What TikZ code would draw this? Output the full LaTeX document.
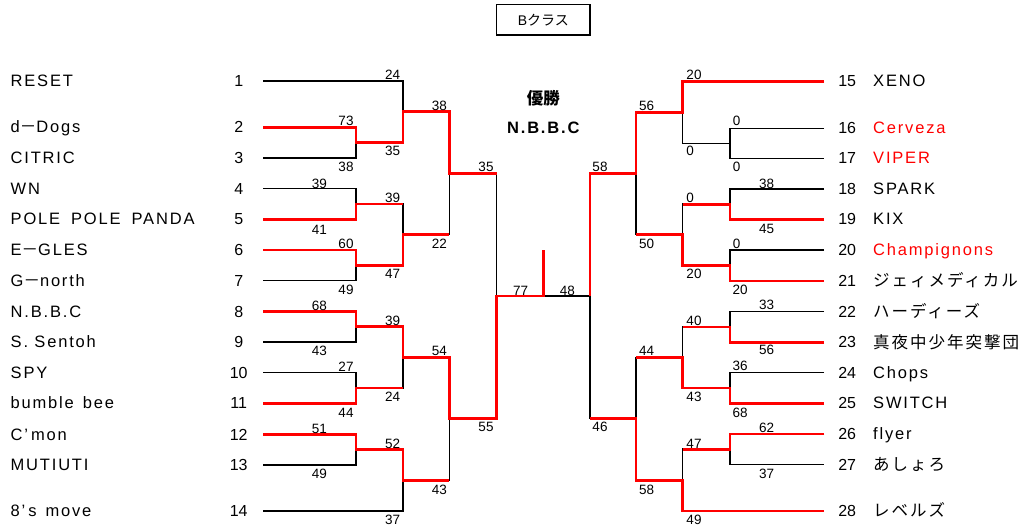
\documentclass[tikz,border=0pt]{standalone}
\usepackage{fontspec}
\setmainfont{Liberation Sans}
\newfontfamily\nmfont[LetterSpace=11]{Liberation Sans}
\newfontfamily\cjknm[LetterSpace=12]{Noto Sans CJK JP}
\newfontfamily\cjk{Noto Sans CJK JP}
\definecolor{bred}{RGB}{255,0,0}
\tikzset{
  bl/.style={line width=1.4pt, black},
  rl/.style={line width=2.9pt, bred},
  nm/.style={anchor=base west, inner sep=0pt, font=\nmfont\fontsize{16.5}{18}\selectfont},
  sd/.style={anchor=base, inner sep=0pt, font=\fontsize{16}{18}\selectfont},
  sc/.style={anchor=base, inner sep=0pt, font=\fontsize{13.5}{15}\selectfont},
}
\begin{document}
\begin{tikzpicture}[x=1pt,y=-1pt]
\useasboundingbox (0,0) rectangle (1023,526);
\fill[white] (0,0) rectangle (1023,526);
% seed line ends
\coordinate (s1) at (263,81);
\coordinate (s2) at (263,127.3);
\coordinate (s3) at (263,158);
\coordinate (s4) at (263,188.7);
\coordinate (s5) at (263,219.3);
\coordinate (s6) at (263,250);
\coordinate (s7) at (263,280.7);
\coordinate (s8) at (263,311.7);
\coordinate (s9) at (263,342);
\coordinate (s10) at (263,372.7);
\coordinate (s11) at (263,403.3);
\coordinate (s12) at (263,434.3);
\coordinate (s13) at (263,465);
\coordinate (s14) at (263,511);
\coordinate (s15) at (824,81.3);
\coordinate (s16) at (824,128.3);
\coordinate (s17) at (824,158.3);
\coordinate (s18) at (824,189);
\coordinate (s19) at (824,219.3);
\coordinate (s20) at (824,250);
\coordinate (s21) at (824,281);
\coordinate (s22) at (824,311.7);
\coordinate (s23) at (824,342.3);
\coordinate (s24) at (824,372.7);
\coordinate (s25) at (824,403.3);
\coordinate (s26) at (824,434);
\coordinate (s27) at (824,464.3);
\coordinate (s28) at (824,511);
% left matches
\coordinate (mA) at (356,142.65);
\coordinate (mC) at (356,204);
\coordinate (mD) at (356,265.35);
\coordinate (mG) at (356,326.85);
\coordinate (mH) at (356,388);
\coordinate (mJ) at (356,449.65);
\coordinate (mB) at (403,111.8);
\coordinate (mE) at (403,234.7);
\coordinate (mI) at (403,357.4);
\coordinate (mK) at (403,480.3);
\coordinate (mF) at (449.3,173.25);
\coordinate (mL) at (449.3,418.85);
\coordinate (mM) at (496.7,296.05);
\coordinate (mW) at (543.3,296.05);
\coordinate (mTop) at (543.3,250);
\coordinate (mN) at (590,296.05);
% right matches
\coordinate (mT1) at (730,143.3);
\coordinate (mT2) at (730,204.15);
\coordinate (mT3) at (730,265.5);
\coordinate (mT4) at (730,327);
\coordinate (mT5) at (730,388);
\coordinate (mT6) at (730,449.15);
\coordinate (mS1) at (682.7,112.3);
\coordinate (mS2) at (682.7,234.8);
\coordinate (mS3) at (682.7,357.5);
\coordinate (mS4) at (682.7,480.1);
\coordinate (mP) at (636,173.55);
\coordinate (mQ) at (636,418.8);
% black skeleton
\draw[bl] (s2) -| (mA) |- (s3);
\draw[bl] (s4) -| (mC) |- (s5);
\draw[bl] (s6) -| (mD) |- (s7);
\draw[bl] (s8) -| (mG) |- (s9);
\draw[bl] (s10) -| (mH) |- (s11);
\draw[bl] (s12) -| (mJ) |- (s13);
\draw[bl] (s1) -| (mB) |- (mA);
\draw[bl] (mC) -| (mE) |- (mD);
\draw[bl] (mG) -| (mI) |- (mH);
\draw[bl] (mJ) -| (mK) |- (s14);
\draw[bl] (mB) -| (mF) |- (mE);
\draw[bl] (mI) -| (mL) |- (mK);
\draw[bl] (mF) -| (mM) |- (mL);
\draw[bl] (mM) -- (mN);
\draw[bl] (s16) -| (mT1) |- (s17);
\draw[bl] (s18) -| (mT2) |- (s19);
\draw[bl] (s20) -| (mT3) |- (s21);
\draw[bl] (s22) -| (mT4) |- (s23);
\draw[bl] (s24) -| (mT5) |- (s25);
\draw[bl] (s26) -| (mT6) |- (s27);
\draw[bl] (s15) -| (mS1) |- (mT1);
\draw[bl] (mT2) -| (mS2) |- (mT3);
\draw[bl] (mT4) -| (mS3) |- (mT5);
\draw[bl] (mT6) -| (mS4) |- (s28);
\draw[bl] (mS1) -| (mP) |- (mS2);
\draw[bl] (mS3) -| (mQ) |- (mS4);
\draw[bl] (mP) -| (mN) |- (mQ);
% red winner paths
\draw[rl] (s2) -| (mA) -| (mB) -| (mF) -- (mF -| mM);
\draw[rl] (s5) -| (mC) -- (mC -| mE);
\draw[rl] (s6) -| (mD) -| (mE) -- (mE -| mF);
\draw[rl] (s8) -| (mG) -| (mI) -| (mL) -| (mM) -- (mW) -- (mTop);
\draw[rl] (s11) -| (mH) -- (mH -| mI);
\draw[rl] (s12) -| (mJ) -| (mK) -- (mK -| mL);
\draw[rl] (s15) -| (mS1) -| (mP) -| (mN);
\draw[rl] (s19) -| (mT2) -- (mT2 -| mS2);
\draw[rl] (s21) -| (mT3) -| (mS2) -- (mS2 -| mP);
\draw[rl] (s23) -| (mT4) -- (mT4 -| mS3);
\draw[rl] (s25) -| (mT5) -| (mS3) -- (mS3 -| mQ);
\draw[rl] (s26) -| (mT6) -- (mT6 -| mS4);
\draw[rl] (s28) -| (mS4) -| (mQ) -- (mQ -| mN);
% title box
\node[draw, line width=1.4pt, minimum width=93.3pt, minimum height=30.3pt, inner sep=0pt,
      font=\fontsize{14}{16}\selectfont] (title) at (543.3,19.85) {B{\cjk クラス}};
\node[inner sep=0pt, font=\cjk\bfseries\fontsize{16.5}{18}\selectfont] (yusho) at (543.3,98.3) {優勝};
\node[anchor=base, inner sep=0pt, font=\nmfont\bfseries\fontsize{16.5}{18}\selectfont] (champ) at (543.3,134) {N.B.B.C};
% left names
\node[nm] (n1) at (10.5,86.7) {RESET};
\node[nm] (n2) at (10.5,133) {d{\cjk －}Dogs};
\node[nm] (n3) at (10.5,163.7) {CITRIC};
\node[nm] (n4) at (10.5,194.4) {WN};
\node[nm] (n5) at (10.5,225) {POLE\hspace{11pt}POLE\hspace{11pt}PANDA};
\node[nm] (n6) at (10.5,255.7) {E{\cjk －}GLES};
\node[nm] (n7) at (10.5,286.4) {G{\cjk －}north};
\node[nm] (n8) at (10.5,317.4) {N.B.B.C};
\node[nm] (n9) at (10.5,347.7) {S. Sentoh};
\node[nm] (n10) at (10.5,378.4) {SPY};
\node[nm] (n11) at (10.5,409) {bumble\hspace{9pt}bee};
\node[nm] (n12) at (10.5,440) {C’\hspace{3pt}mon};
\node[nm] (n13) at (10.5,470.7) {MUTIUTI};
\node[nm] (n14) at (10.5,516.7) {8’\hspace{3pt}s\hspace{9pt}move};
% left seed numbers
\node[sd] (d1) at (238.7,86.7) {1};
\node[sd] (d2) at (238.7,133) {2};
\node[sd] (d3) at (238.7,163.7) {3};
\node[sd] (d4) at (238.7,194.4) {4};
\node[sd] (d5) at (238.7,225) {5};
\node[sd] (d6) at (238.7,255.7) {6};
\node[sd] (d7) at (238.7,286.4) {7};
\node[sd] (d8) at (238.7,317.4) {8};
\node[sd] (d9) at (238.7,347.7) {9};
\node[sd] (d10) at (238.7,378.4) {10};
\node[sd] (d11) at (238.7,409) {11};
\node[sd] (d12) at (238.7,440) {12};
\node[sd] (d13) at (238.7,470.7) {13};
\node[sd] (d14) at (238.7,516.7) {14};
% right seed numbers
\node[sd] (d15) at (847.2,87) {15};
\node[sd] (d16) at (847.2,134) {16};
\node[sd] (d17) at (847.2,164) {17};
\node[sd] (d18) at (847.2,194.7) {18};
\node[sd] (d19) at (847.2,225) {19};
\node[sd] (d20) at (847.2,255.7) {20};
\node[sd] (d21) at (847.2,286.7) {21};
\node[sd] (d22) at (847.2,317.4) {22};
\node[sd] (d23) at (847.2,348) {23};
\node[sd] (d24) at (847.2,378.4) {24};
\node[sd] (d25) at (847.2,409) {25};
\node[sd] (d26) at (847.2,439.7) {26};
\node[sd] (d27) at (847.2,470) {27};
\node[sd] (d28) at (847.2,516.7) {28};
% right names
\node[nm] (n15) at (873,87) {XENO};
\node[nm, text=bred] (n16) at (873,134) {Cerveza};
\node[nm, text=bred] (n17) at (873,164) {VIPER};
\node[nm] (n18) at (873,194.7) {SPARK};
\node[nm] (n19) at (873,225) {KIX};
\node[nm, text=bred] (n20) at (873,255.7) {Champignons};
\node[nm] (n21) at (873,286.9) {\cjknm ジェィメディカル};
\node[nm] (n22) at (873,317.6) {\cjknm ハーディーズ};
\node[nm] (n23) at (873,348.2) {\cjknm 真夜中少年突撃団};
\node[nm] (n24) at (873,378.4) {Chops};
\node[nm] (n25) at (873,409) {SWITCH};
\node[nm] (n26) at (873,439.7) {flyer};
\node[nm] (n27) at (873,470.2) {\cjknm あしょろ};
\node[nm] (n28) at (873,516.9) {\cjknm レベルズ};
% scores left
\node[sc] (p1) at (392.7,79.8) {24};
\node[sc] (p2) at (346,125.8) {73};
\node[sc] (p3) at (392.7,155.5) {35};
\node[sc] (p4) at (346,171.5) {38};
\node[sc] (p5) at (439.3,110.8) {38};
\node[sc] (p6) at (319.3,188.1) {39};
\node[sc] (p7) at (392.7,202.1) {39};
\node[sc] (p8) at (319.3,234.1) {41};
\node[sc] (p9) at (486,171.5) {35};
\node[sc] (p10) at (439.3,248.1) {22};
\node[sc] (p11) at (346,248.1) {60};
\node[sc] (p12) at (392.7,278.1) {47};
\node[sc] (p13) at (346,294.8) {49};
\node[sc] (p14) at (319.3,310.8) {68};
\node[sc] (p15) at (392.7,325.8) {39};
\node[sc] (p16) at (319.3,355.8) {43};
\node[sc] (p17) at (439.3,355.8) {54};
\node[sc] (p18) at (346,371.5) {27};
\node[sc] (p19) at (392.7,401.5) {24};
\node[sc] (p20) at (346,417.5) {44};
\node[sc] (p21) at (486,431.5) {55};
\node[sc] (p22) at (319.3,433.1) {51};
\node[sc] (p23) at (392.7,448.1) {52};
\node[sc] (p24) at (319.3,478.1) {49};
\node[sc] (p25) at (439.3,494.1) {43};
\node[sc] (p26) at (392.7,524.1) {37};
% scores centre
\node[sc] (p27) at (520.7,295.5) {77};
\node[sc] (p28) at (567.3,295.5) {48};
\node[sc] (p29) at (600,171.5) {58};
% scores right
\node[sc] (p30) at (694,79.8) {20};
\node[sc] (p31) at (646.7,110.8) {56};
\node[sc] (p32) at (736.7,125.5) {0};
\node[sc] (p33) at (690,155.5) {0};
\node[sc] (p34) at (736.7,171.5) {0};
\node[sc] (p35) at (766.7,188.1) {38};
\node[sc] (p36) at (690,202.1) {0};
\node[sc] (p37) at (766.7,233.1) {45};
\node[sc] (p38) at (646.7,248.1) {50};
\node[sc] (p39) at (736.7,248.1) {0};
\node[sc] (p40) at (694,278.1) {20};
\node[sc] (p41) at (740,294.1) {20};
\node[sc] (p42) at (766.7,309.8) {33};
\node[sc] (p43) at (694,325.5) {40};
\node[sc] (p44) at (766.7,354.8) {56};
\node[sc] (p45) at (646.7,355.5) {44};
\node[sc] (p46) at (740,370.8) {36};
\node[sc] (p47) at (694,401.5) {43};
\node[sc] (p48) at (740,417.5) {68};
\node[sc] (p49) at (600,431.5) {46};
\node[sc] (p50) at (766.7,432.1) {62};
\node[sc] (p51) at (694,448.1) {47};
\node[sc] (p52) at (766.7,478.1) {37};
\node[sc] (p53) at (646.7,494.1) {58};
\node[sc] (p54) at (694,524.1) {49};
\end{tikzpicture}
\end{document}
